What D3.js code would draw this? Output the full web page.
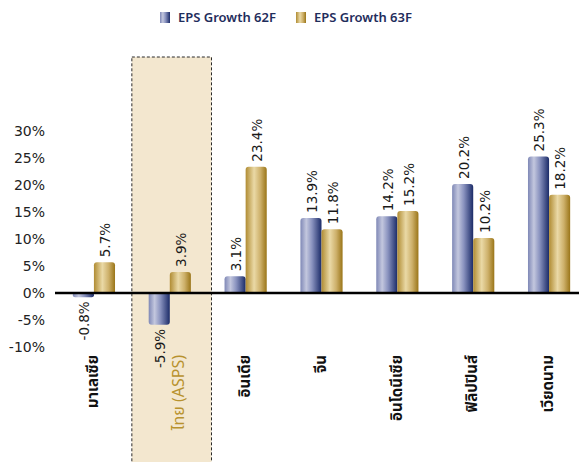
<!DOCTYPE html>
<html>
<head>
<meta charset="utf-8">
<script src="https://cdn.jsdelivr.net/npm/d3@7"></script>
<style>
  html, body { margin: 0; padding: 0; background: #fff; }
  svg { display: block; }
</style>
</head>
<body>
<svg id="chart" width="579" height="462"></svg>
<script>
// EPS growth by market, 2019F (62F) vs 2020F (63F)
const categories = ["มาเลเซีย", "ไทย (ASPS)", "อินเดีย", "จีน", "อินโดนีเซีย", "ฟิลิปปินส์", "เวียดนาม"];
const eps62 = [-0.8, -5.9, 3.1, 13.9, 14.2, 20.2, 25.3];
const eps63 = [5.7, 3.9, 23.4, 11.8, 15.2, 10.2, 18.2];
const seriesNames = ["EPS Growth 62F", "EPS Growth 63F"];
const yTicks = [-10, -5, 0, 5, 10, 15, 20, 25, 30];
const highlight = "ไทย (ASPS)";

const svg = d3.select("#chart");
const defs = svg.append("defs");

function gradient(id, stops) {
  const g = defs.append("linearGradient").attr("id", id)
    .attr("x1", "0%").attr("x2", "100%").attr("y1", "0%").attr("y2", "0%");
  stops.forEach(([o, c]) => g.append("stop").attr("offset", o).attr("stop-color", c));
}
gradient("gBlue", [["0%", "#7f88b6"], ["28%", "#c3c7de"], ["55%", "#8a93bf"], ["100%", "#1b2b68"]]);
gradient("gGold", [["0%", "#b08c33"], ["40%", "#ead9a6"], ["70%", "#cdb06a"], ["100%", "#9a7518"]]);
const fills = ["url(#gBlue)", "url(#gGold)"];

const x = d3.scaleBand().domain(categories).range([56, 587]).padding(0);
const y = d3.scaleLinear().domain([-10, 30]).range([347, 131]);
const barW = x.bandwidth() * 0.278;
const pct = v => v.toFixed(1) + "%";

// highlighted market column
const hx = x(highlight);
svg.append("rect")
  .attr("x", hx).attr("y", 57)
  .attr("width", x.bandwidth() * 1.05).attr("height", 420)
  .attr("fill", "#f3e7cf")
  .attr("stroke", "#2b2b2b").attr("stroke-width", 1)
  .attr("stroke-dasharray", "3,2");

// y axis labels
const yAxis = d3.axisLeft(y).tickValues(yTicks).tickFormat(d => d + "%").tickSize(0).tickPadding(0);
const ya = svg.append("g").attr("transform", "translate(45,0)").call(yAxis);
ya.select(".domain").remove();
ya.selectAll("text")
  .attr("font-family", "DejaVu Sans, Verdana, sans-serif")
  .attr("font-size", 14).attr("fill", "#222");

// bar path with rounded outer corners
function barPath(x0, w, v) {
  const y0 = y(0), y1 = y(v);
  const h = Math.abs(y1 - y0);
  const r = Math.min(3, h / 2, w / 2);
  if (v >= 0) {
    return `M${x0},${y0} V${y1 + r} Q${x0},${y1} ${x0 + r},${y1} H${x0 + w - r} Q${x0 + w},${y1} ${x0 + w},${y1 + r} V${y0} Z`;
  }
  return `M${x0},${y0} V${y1 - r} Q${x0},${y1} ${x0 + r},${y1} H${x0 + w - r} Q${x0 + w},${y1} ${x0 + w},${y1 - r} V${y0} Z`;
}

const rows = categories.map((c, i) => ({ cat: c, vals: [eps62[i], eps63[i]] }));
const groups = svg.append("g").selectAll("g").data(rows).join("g");

groups.each(function (d) {
  const g = d3.select(this);
  const cx = x(d.cat) + x.bandwidth() / 2;
  d.vals.forEach((v, s) => {
    const bx = cx - barW + s * barW;
    g.append("path").attr("d", barPath(bx, barW, v)).attr("fill", fills[s]);
    const lx = bx + barW / 2 + 1;
    const ly = v >= 0 ? y(v) - 5 : y(v) + 4;
    g.append("text")
      .attr("transform", `translate(${lx},${ly}) rotate(-90)`)
      .attr("text-anchor", v >= 0 ? "start" : "end")
      .attr("dy", "0.36em")
      .attr("font-family", "DejaVu Sans, Verdana, sans-serif")
      .attr("font-size", 13.5).attr("fill", "#1a1a1a")
      .text(pct(v));
  });
});

// zero line
svg.append("line")
  .attr("x1", 55).attr("x2", 579)
  .attr("y1", y(0)).attr("y2", y(0))
  .attr("stroke", "#000").attr("stroke-width", 2.5);

// category labels (the highlighted market is nudged right to clear its value label)
svg.append("g").selectAll("text").data(categories).join("text")
  .attr("transform", d => `translate(${x(d) + x.bandwidth() / 2 + (d === highlight ? 9 : -1)},355) rotate(-90)`)
  .attr("text-anchor", "end")
  .attr("dy", "0.35em")
  .attr("font-family", "Noto Sans Thai, Tahoma, sans-serif")
  .attr("font-size", d => d === highlight ? 16 : 15)
  .attr("font-weight", d => d === highlight ? "normal" : "bold")
  .attr("fill", d => d === highlight ? "#b8922e" : "#111")
  .text(d => d);

// legend
const legend = svg.append("g");
const legendX = [160, 296];
seriesNames.forEach((n, i) => {
  legend.append("rect").attr("x", legendX[i]).attr("y", 12).attr("width", 10).attr("height", 11).attr("fill", fills[i]);
  legend.append("text").attr("x", legendX[i] + 18).attr("y", 17.5).attr("dy", "0.35em")
    .attr("font-family", "Noto Sans, sans-serif").attr("font-weight", 600)
    .attr("font-size", 13).attr("fill", "#1f2d5c").text(n);
});
</script>
</body>
</html>
